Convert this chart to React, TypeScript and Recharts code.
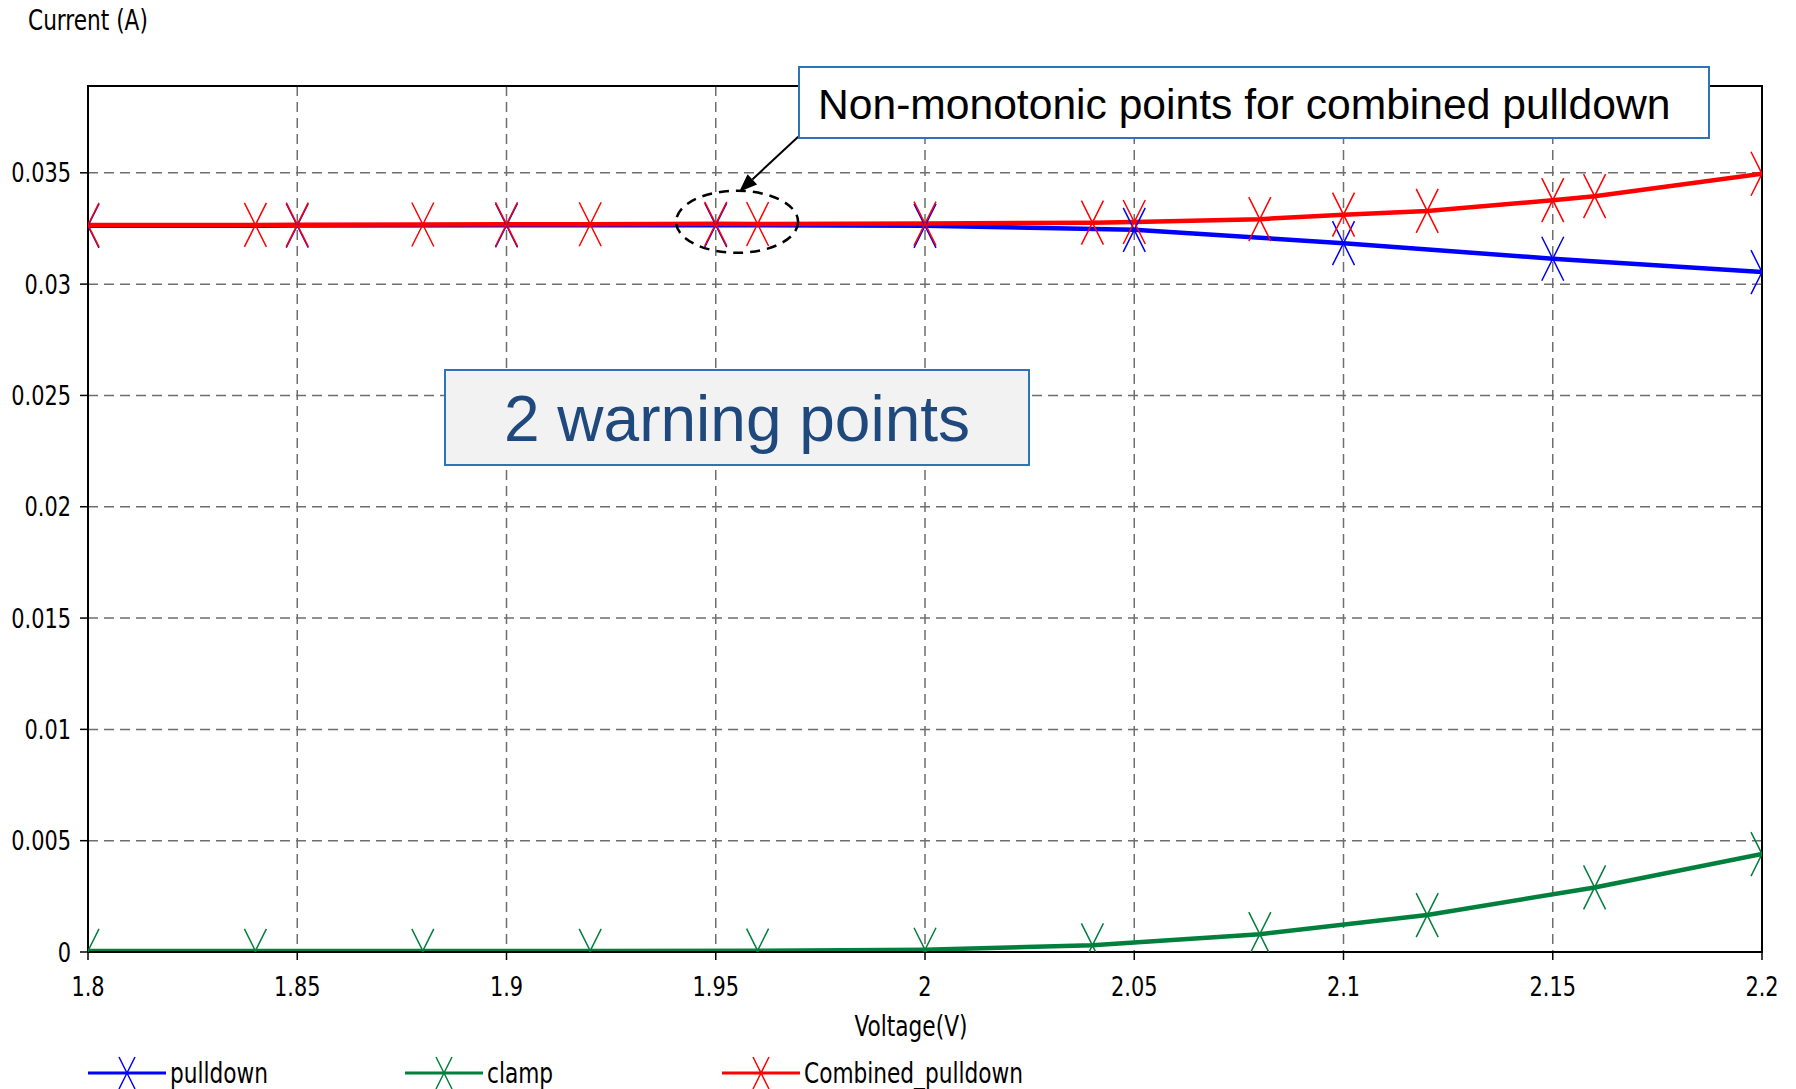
import { CartesianGrid, Line, LineChart, ReferenceArea, ReferenceDot, ReferenceLine, XAxis, YAxis } from "recharts";

// Voltage (V) / Current (A)
const PULLDOWN_V = [1.8, 1.85, 1.9, 1.95, 2.0, 2.05, 2.1, 2.15, 2.2];
const PULLDOWN_I = [0.03262, 0.03263, 0.03264, 0.03265, 0.03262, 0.03244, 0.03184, 0.03114, 0.03054];

const CLAMP_V = [1.8, 1.84, 1.88, 1.92, 1.96, 2.0, 2.04, 2.08, 2.12, 2.16, 2.2];
const CLAMP_I = [0.00005, 0.00005, 0.00005, 0.00005, 0.00006, 0.0001, 0.0003, 0.0008, 0.00166, 0.0029, 0.0044];

const COMBINED_V = [1.8, 1.84, 1.85, 1.88, 1.9, 1.92, 1.95, 1.96, 2.0, 2.04, 2.05, 2.08, 2.1, 2.12, 2.15, 2.16, 2.2];
const COMBINED_I = [
  0.03266, 0.03266, 0.03267, 0.03268, 0.03269, 0.03269, 0.03271, 0.0327, 0.03272, 0.03276, 0.03279, 0.03292,
  0.03312, 0.03329, 0.03377, 0.03395, 0.03496,
];

const X_TICKS = [1.8, 1.85, 1.9, 1.95, 2, 2.05, 2.1, 2.15, 2.2];
const Y_TICKS = [0, 0.005, 0.01, 0.015, 0.02, 0.025, 0.03, 0.035];
const Y_MAX = 0.0389;

const SERIES = [
  { name: "pulldown", color: "#0000ff", v: PULLDOWN_V, i: PULLDOWN_I },
  { name: "clamp", color: "#00803c", v: CLAMP_V, i: CLAMP_I },
  { name: "Combined_pulldown", color: "#ff0000", v: COMBINED_V, i: COMBINED_I },
];

const AXIS_FONT = "'Liberation Sans Narrow', 'DejaVu Sans Condensed', 'Arial Narrow', sans-serif";
const BOX_FONT = "'Liberation Sans', Arial, sans-serif";
const SQUEEZE = 0.86; // the axis font is narrower than anything installed

const toRows = (v: number[], i: number[]) => v.map((x, k) => ({ x, y: i[k] }));

function XMark({ cx, cy, color, h = 22, w = 11 }: { cx: number; cy: number; color: string; h?: number; w?: number }) {
  return (
    <path
      d={`M${cx - w},${cy - h} L${cx + w},${cy + h} M${cx + w},${cy - h} L${cx - w},${cy + h}`}
      stroke={color}
      strokeWidth={1.5}
      fill="none"
    />
  );
}

const makeTick = (anchor: "middle" | "end", dy: string) => (p: any) => (
  <g transform={`translate(${p.x},${p.y})`}>
    <text
      transform={`scale(${SQUEEZE},1)`}
      textAnchor={anchor}
      dy={dy}
      fontFamily={AXIS_FONT}
      fontSize={27}
      fill="#000"
    >
      {String(p.payload.value)}
    </text>
  </g>
);

const Ellipse = (p: any) => (
  <ellipse cx={p.cx} cy={p.cy} rx={61} ry={31} fill="none" stroke="#000" strokeWidth={2.5} strokeDasharray="10 7" />
);

const Arrow = (p: any) => {
  const { x1, y1, x2, y2 } = p;
  const a = Math.atan2(y2 - y1, x2 - x1);
  const L = 18;
  const W = 7;
  const bx = x2 - L * Math.cos(a);
  const by = y2 - L * Math.sin(a);
  const nx = -Math.sin(a) * W;
  const ny = Math.cos(a) * W;
  return (
    <g>
      <line x1={x1} y1={y1} x2={bx} y2={by} stroke="#000" strokeWidth={2} />
      <polygon points={`${x2},${y2} ${bx + nx},${by + ny} ${bx - nx},${by - ny}`} fill="#000" />
    </g>
  );
};

const squeezed = { fontFamily: AXIS_FONT, fontSize: 28, color: "#000", transform: `scaleX(${SQUEEZE})` };

export default function App() {
  return (
    <div style={{ position: "absolute", left: 0, top: 0, width: 1796, height: 1089, background: "#fff" }}>
      <LineChart width={1796} height={1089} margin={{ top: 86, right: 34, left: 8, bottom: 87 }}>
        <CartesianGrid stroke="#6e6e6e" strokeWidth={1.5} strokeDasharray="10 6" />
        <XAxis
          type="number"
          dataKey="x"
          domain={[1.8, 2.2]}
          ticks={X_TICKS}
          allowDataOverflow
          height={50}
          tickSize={8}
          tickMargin={17}
          tick={makeTick("middle", "0.71em")}
          axisLine={{ stroke: "#000", strokeWidth: 2 }}
          tickLine={{ stroke: "#000", strokeWidth: 1.5 }}
        />
        <YAxis
          type="number"
          dataKey="y"
          domain={[0, Y_MAX]}
          ticks={Y_TICKS}
          allowDataOverflow
          width={80}
          tickSize={8}
          tickMargin={9}
          tick={makeTick("end", "0.355em")}
          axisLine={{ stroke: "#000", strokeWidth: 2 }}
          tickLine={{ stroke: "#000", strokeWidth: 1.5 }}
        />
        <ReferenceArea x1={1.8} x2={2.2} y1={0} y2={Y_MAX} fill="none" stroke="#000" strokeWidth={2} strokeOpacity={1} />
        {SERIES.map((s) => (
          <Line
            key={s.name}
            data={toRows(s.v, s.i)}
            dataKey="y"
            type="linear"
            stroke={s.color}
            strokeWidth={4.5}
            isAnimationActive={false}
            activeDot={false}
            legendType="none"
            dot={(p: any) => <XMark key={`${s.name}-${p.index}`} cx={p.cx} cy={p.cy} color={s.color} />}
          />
        ))}
        <ReferenceDot x={1.9551} y={0.0328} shape={Ellipse} />
        <ReferenceLine
          segment={[
            { x: 1.9697, y: 0.03662 },
            { x: 1.9556, y: 0.03415 },
          ]}
          shape={Arrow}
          ifOverflow="visible"
        />
      </LineChart>

      <div style={{ position: "absolute", left: 28, top: 7, lineHeight: "28px", transformOrigin: "left top", ...squeezed }}>
        Current (A)
      </div>
      <div
        style={{
          position: "absolute",
          left: 811,
          width: 200,
          textAlign: "center",
          top: 1013,
          lineHeight: "28px",
          transformOrigin: "center top",
          ...squeezed,
        }}
      >
        Voltage(V)
      </div>

      {SERIES.map((s, k) => (
        <div key={s.name} style={{ position: "absolute", left: 88 + k * 317, top: 1053, height: 40, display: "flex", alignItems: "center" }}>
          <svg width={80} height={40}>
            <line x1={0} y1={20} x2={78} y2={20} stroke={s.color} strokeWidth={3} />
            <XMark cx={39} cy={20} color={s.color} h={16} w={8} />
          </svg>
          <span style={{ display: "inline-block", marginLeft: 2, transformOrigin: "left center", whiteSpace: "nowrap", ...squeezed }}>
            {s.name}
          </span>
        </div>
      ))}

      <div
        style={{
          position: "absolute",
          left: 798,
          top: 66,
          width: 890,
          height: 69,
          background: "#fff",
          border: "2px solid #2e75b6",
          fontFamily: BOX_FONT,
          fontSize: 42.6,
          lineHeight: "72px",
          paddingLeft: 18,
          boxSizing: "content-box",
          color: "#000",
          whiteSpace: "nowrap",
        }}
      >
        Non-monotonic points for combined pulldown
      </div>
      <div
        style={{
          position: "absolute",
          left: 444,
          top: 369,
          width: 582,
          height: 93,
          background: "#f2f2f2",
          border: "2px solid #2e75b6",
          fontFamily: BOX_FONT,
          fontSize: 64,
          lineHeight: "97px",
          textAlign: "center",
          color: "#1f497d",
          whiteSpace: "nowrap",
        }}
      >
        2 warning points
      </div>
    </div>
  );
}
